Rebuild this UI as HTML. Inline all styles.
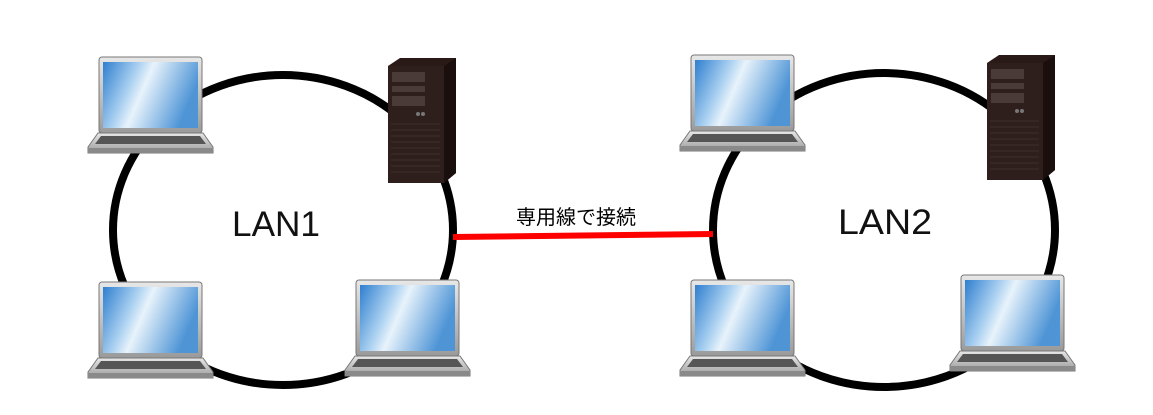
<!DOCTYPE html>
<html><head><meta charset="utf-8"><style>
body{margin:0;background:#fff;width:1153px;height:410px;overflow:hidden}
</style></head><body>
<svg width="1153" height="410" viewBox="0 0 1153 410" xmlns="http://www.w3.org/2000/svg">
<defs>
<linearGradient id="scr" x1="0" y1="0" x2="1" y2="0.3">
<stop offset="0" stop-color="#2f7fcf"/><stop offset="0.35" stop-color="#a9d0f0"/><stop offset="0.5" stop-color="#e8f3fb"/><stop offset="1" stop-color="#4f95d6"/></linearGradient>
<linearGradient id="sil" x1="0" y1="0" x2="0" y2="1"><stop offset="0" stop-color="#e8e8e8"/><stop offset="1" stop-color="#9a9a9a"/></linearGradient>
<g id="lap">
<rect x="11" y="0" width="103" height="76" rx="3" fill="url(#sil)" stroke="#777" stroke-width="1"/>
<rect x="15" y="5" width="95" height="66" fill="url(#scr)"/>
<path d="M10 76 L115 76 L125 90 L125 96 L0 96 L0 90 Z" fill="url(#sil)" stroke="#777" stroke-width="1"/>
<path d="M13 79 L112 79 L118 87 L7 87 Z" fill="#555"/>
<rect x="0" y="91" width="125" height="5" fill="#8a8a8a"/>
</g>
<g id="srv">
<path d="M0 8 L12 0 L68 0 L68 115 L56 125 L0 125 Z" fill="#2a1a17"/>
<path d="M56 8 L68 0 L68 115 L56 125 Z" fill="#1b0f0d"/>
<rect x="0" y="8" width="56" height="117" fill="#2e1f1c"/>
<rect x="4" y="14" width="33" height="10" fill="#4a3b38"/>
<rect x="4" y="28" width="33" height="6" fill="#4a3b38"/>
<rect x="4" y="38" width="33" height="10" fill="#4a3b38"/>
<circle cx="30" cy="56" r="2" fill="#777"/><circle cx="35" cy="56" r="2" fill="#777"/>
<g stroke="#3d2e2b" stroke-width="1">
<line x1="3" y1="66" x2="52" y2="66"/><line x1="3" y1="72" x2="52" y2="72"/><line x1="3" y1="78" x2="52" y2="78"/><line x1="3" y1="84" x2="52" y2="84"/><line x1="3" y1="90" x2="52" y2="90"/><line x1="3" y1="96" x2="52" y2="96"/><line x1="3" y1="102" x2="52" y2="102"/><line x1="3" y1="108" x2="52" y2="108"/><line x1="3" y1="114" x2="52" y2="114"/></g>
</g>
</defs>
<ellipse cx="283" cy="230" rx="170" ry="155" fill="none" stroke="#000" stroke-width="8"/>
<ellipse cx="884" cy="230" rx="171" ry="157" fill="none" stroke="#000" stroke-width="8"/>
<line x1="453" y1="237" x2="713" y2="234" stroke="#f00" stroke-width="6"/>
<use href="#lap" x="88" y="57"/>
<use href="#lap" x="88" y="282"/>
<use href="#lap" x="345" y="280"/>
<use href="#srv" x="388" y="58"/>
<use href="#lap" x="680" y="55"/>
<use href="#lap" x="680" y="280"/>
<use href="#lap" x="950" y="275"/>
<use href="#srv" x="987" y="55"/>
<text x="276" y="236" font-family="Liberation Sans, sans-serif" font-size="35" text-anchor="middle" fill="#111" textLength="88" lengthAdjust="spacingAndGlyphs">LAN1</text>
<text x="885" y="234" font-family="Liberation Sans, sans-serif" font-size="35" text-anchor="middle" fill="#111" textLength="94" lengthAdjust="spacingAndGlyphs">LAN2</text>
<text x="576" y="224" font-family="Liberation Sans, 'Noto Sans CJK JP', sans-serif" font-size="20" text-anchor="middle" fill="#000">専用線で接続</text>
</svg>
</body></html>
